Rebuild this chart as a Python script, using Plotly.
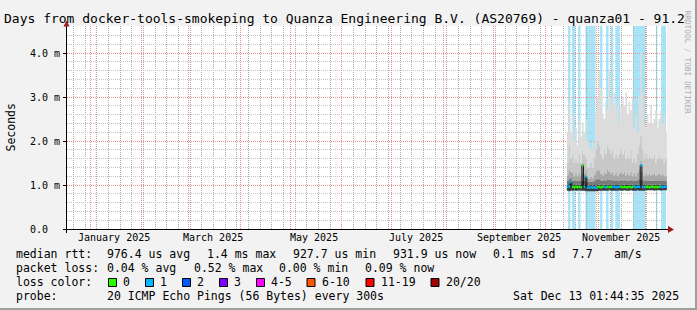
import plotly.graph_objects as go
import pandas as pd

# ---------------- data ----------------
RANGE_START = "2024-12-18 01:44:35"
RANGE_END = "2025-12-13 01:44:35"
FIRST_DAY = "2025-10-14"

median_ms = [0.96, 0.97, 1.07, 0.96, 0.95, 0.96, 0.95, 0.96, 0.95, 1.45,
             0.96, 1.19, 0.94, 0.94, 0.95, 0.94, 0.95, 0.94, 0.95, 0.96,
             0.95, 0.96, 0.96, 0.95, 0.96, 0.95, 0.96, 0.96, 0.96, 0.95,
             0.95, 0.96, 0.96, 0.95, 0.96, 0.95, 0.95, 0.96, 0.95, 0.96,
             0.96, 0.95, 0.96, 0.96, 1.45, 0.96, 0.95, 0.96, 0.96, 0.95,
             0.96, 0.96, 0.95, 0.96, 0.95, 0.96, 0.96, 0.95, 0.96, 0.96,
             0.96]
loss_cnt = [1, 1, 1, 0, 0, 0, 0, 0, 0, 0,
            1, 1, 1, 1, 1, 1, 1, 1, 0, 0,
            0, 0, 1, 1, 0, 0, 0, 1, 1, 1,
            1, 1, 0, 0, 0, 0, 0, 0, 0, 0,
            1, 1, 1, 1, 1, 1, 1, 0, 0, 0,
            0, 0, 0, 0, 0, 0, 1, 1, 1, 1,
            1]
lower_ms = [0.87, 0.86, 0.87, 0.87, 0.88, 0.87, 0.87, 0.88, 0.87, 0.87,
            0.87, 0.86, 0.86, 0.86, 0.86, 0.86, 0.86, 0.86, 0.86, 0.87,
            0.87, 0.87, 0.87, 0.87, 0.87, 0.88, 0.87, 0.87, 0.87, 0.87,
            0.87, 0.88, 0.87, 0.87, 0.88, 0.87, 0.87, 0.87, 0.88, 0.87,
            0.87, 0.87, 0.88, 0.87, 0.87, 0.87, 0.87, 0.88, 0.88, 0.88,
            0.88, 0.88, 0.87, 0.88, 0.88, 0.88, 0.87, 0.88, 0.88, 0.88,
            0.88]
band1_ms = [1.01, 1.02, 1.08, 1.01, 1.00, 1.01, 1.00, 1.01, 1.00, 1.10,
            1.01, 1.08, 0.99, 0.99, 1.00, 0.99, 1.00, 0.99, 1.00, 1.01,
            1.00, 1.01, 1.01, 1.00, 1.01, 1.00, 1.01, 1.01, 1.01, 1.00,
            1.00, 1.01, 1.01, 1.00, 1.01, 1.00, 1.00, 1.01, 1.00, 1.01,
            1.01, 1.00, 1.01, 1.01, 1.10, 1.01, 1.00, 1.01, 1.01, 1.00,
            1.01, 1.01, 1.00, 1.01, 1.00, 1.01, 1.01, 1.00, 1.01, 1.01,
            1.01]
band2_ms = [1.10, 1.14, 1.16, 1.10, 1.09, 1.10, 1.09, 1.11, 1.09, 1.25,
            1.10, 1.20, 1.07, 1.07, 1.08, 1.07, 1.10, 1.12, 1.14, 1.13,
            1.10, 1.10, 1.12, 1.10, 1.13, 1.12, 1.10, 1.12, 1.10, 1.11,
            1.09, 1.10, 1.12, 1.10, 1.12, 1.10, 1.11, 1.10, 1.12, 1.09,
            1.10, 1.09, 1.11, 1.14, 1.28, 1.12, 1.09, 1.10, 1.10, 1.11,
            1.10, 1.10, 1.11, 1.09, 1.10, 1.11, 1.10, 1.10, 1.09, 1.10,
            1.10]
band3_ms = [1.22, 1.35, 1.30, 1.28, 1.20, 1.25, 1.20, 1.28, 1.20, 1.50,
            1.25, 1.35, 1.15, 1.15, 1.18, 1.15, 1.22, 1.30, 1.35, 1.32,
            1.25, 1.22, 1.30, 1.25, 1.35, 1.30, 1.25, 1.30, 1.22, 1.28,
            1.20, 1.25, 1.30, 1.25, 1.30, 1.22, 1.28, 1.22, 1.30, 1.20,
            1.25, 1.20, 1.28, 1.35, 1.55, 1.30, 1.20, 1.25, 1.22, 1.28,
            1.22, 1.24, 1.28, 1.20, 1.24, 1.28, 1.22, 1.25, 1.20, 1.22,
            1.22]
band4_ms = [1.50, 1.90, 1.60, 1.70, 1.50, 1.60, 1.50, 1.70, 1.50, 1.80,
            1.70, 1.60, 1.40, 1.40, 1.50, 1.40, 1.60, 1.80, 2.00, 1.90,
            1.70, 1.60, 1.80, 1.70, 1.90, 1.80, 1.70, 1.80, 1.60, 1.70,
            1.60, 1.70, 1.80, 1.70, 1.80, 1.60, 1.70, 1.60, 1.80, 1.50,
            1.60, 1.50, 1.70, 1.90, 2.10, 1.80, 1.60, 1.70, 1.60, 1.70,
            1.60, 1.60, 1.70, 1.50, 1.60, 1.70, 1.60, 1.60, 1.50, 1.60,
            1.60]
max_ms = [2.20, 2.90, 2.20, 2.60, 2.00, 2.30, 1.90, 2.50, 2.10, 2.40,
          2.20, 2.50, 2.00, 1.90, 1.80, 2.00, 1.80, 2.60, 3.00, 3.60,
          3.20, 2.60, 2.50, 2.90, 2.70, 3.60, 3.00, 2.80, 3.10, 2.70,
          2.90, 2.40, 2.80, 3.00, 2.80, 3.10, 2.60, 2.90, 2.70, 3.00,
          2.30, 2.60, 2.20, 3.00, 4.00, 3.10, 2.40, 2.30, 2.60, 2.40,
          2.80, 2.40, 2.50, 2.70, 2.30, 2.50, 2.70, 2.40, 2.60, 2.20,
          2.50]

loss_start = ["2025-10-14 16:00", "2025-10-17 01:00", "2025-10-20 16:00", "2025-10-25 04:00",
              "2025-11-02 20:00", "2025-11-06 11:00", "2025-11-09 11:00", "2025-11-12 01:00",
              "2025-11-22 16:00", "2025-12-06 11:00", "2025-12-09 11:00"]
loss_end = ["2025-10-16 04:00", "2025-10-19 01:00", "2025-10-22 06:00", "2025-10-31 04:00",
            "2025-11-04 09:00", "2025-11-08 02:00", "2025-11-10 20:00", "2025-11-14 20:00",
            "2025-11-30 04:00", "2025-12-07 06:00", "2025-12-12 11:00"]
loss_bg_count = 1

label_dates = ["2025-01-15 12:00", "2025-03-15 12:00", "2025-05-15 12:00",
               "2025-07-15 12:00", "2025-09-15 12:00", "2025-11-15 12:00"]
label_text = ["January 2025", "March 2025", "May 2025", "July 2025", "September 2025", "November 2025"]
y_tick_alias = {"0.0 m": "0.0\u00a0\u00a0"}

loss_colors = ["#26ff00", "#00b8ff", "#0059ff", "#7e00ff", "#ff00ff", "#ff5500", "#ff0000", "#a10000"]
loss_labels = ["0", "1", "2", "3", "4-5", "6-10", "11-19", "20/20"]
loss_bg_colors = ["#ffffff", "#a8e4f8"]

title_text = "Days from docker-tools-smokeping to Quanza Engineering B.V. (AS20769) - quanza01 - 91.2"
rtt_texts = ["median rtt:", "976.4 us avg", "1.4 ms max", "927.7 us min", "931.9 us now", "0.1 ms sd", "7.7", "am/s"]
loss_texts = ["packet loss:", "0.04 % avg", "0.52 % max", "0.00 % min", "0.09 % now"]
probe_texts = ["probe:", "20 ICMP Echo Pings (56 Bytes) every 300s", "Sat Dec 13 01:44:35 2025"]

# ---------------- layout helpers ----------------
W, H = 697, 310
L, R, T, B = 67, 30, 26, 81
PW, PH = W - L - R, H - T - B
PX_PER_MS = 44.0
def px(x): return (x - L) / PW
def py(y): return (H - B - y) / PH
MONO = "DejaVu Sans Mono"
def color_index(n):
    if n <= 3: return n
    if n <= 5: return 4
    if n <= 10: return 5
    if n <= 19: return 6
    return 7

days = pd.date_range(FIRST_DAY, periods=len(median_ms), freq="D")

fig = go.Figure()
layers = [(lower_ms, None), (band1_ms, "#3c3c3c"), (band2_ms, "#7a7a7a"),
          (band3_ms, "#a8a8a8"), (band4_ms, "#c8c8c8"), (max_ms, "#dcdcdc")]
for arr, col in layers:
    fig.add_trace(go.Scatter(x=days, y=arr, mode="lines",
                             line=dict(width=0, shape="hv", color="rgba(0,0,0,0)"),
                             fill=None if col is None else "tonexty",
                             fillcolor=col, hoverinfo="skip", showlegend=False))
fig.add_trace(go.Scatter(x=days, y=median_ms, mode="lines",
                         line=dict(color="#151515", width=1, shape="hv"),
                         hoverinfo="skip", showlegend=False))
for k, col in enumerate(loss_colors):
    xs, ys = [], []
    for i in range(len(days) - 1):
        if color_index(loss_cnt[i]) == k:
            xs += [days[i], days[i + 1], None]
            ys += [median_ms[i], median_ms[i], None]
    if xs:
        fig.add_trace(go.Scatter(x=xs, y=ys, mode="lines", line=dict(color=col, width=2.5),
                                 hoverinfo="skip", showlegend=False))

shapes = []
for a, b in zip(loss_start, loss_end):
    shapes.append(dict(type="rect", xref="x", yref="paper", x0=a, x1=b, y0=0, y1=1,
                       fillcolor=loss_bg_colors[loss_bg_count], line=dict(width=0), layer="below"))
shapes.append(dict(type="rect", xref="paper", yref="paper", x0=px(695), x1=px(697), y0=py(0), y1=py(310),
                   fillcolor="#9e9e9e", line=dict(width=0), layer="above"))
shapes.append(dict(type="rect", xref="paper", yref="paper", x0=px(0), x1=px(697), y0=py(308), y1=py(310),
                   fillcolor="#9e9e9e", line=dict(width=0), layer="above"))
shapes.append(dict(type="line", xref="paper", yref="paper", x0=px(63), x1=px(668), y0=py(229.5), y1=py(229.5),
                   line=dict(color="#000000", width=1), layer="above"))
shapes.append(dict(type="line", xref="paper", yref="paper", x0=px(66.5), x1=px(66.5), y0=py(233), y1=py(24),
                   line=dict(color="#000000", width=1), layer="above"))
shapes.append(dict(type="path", xref="paper", yref="paper",
                   path=f"M {px(668)} {py(226)} L {px(674)} {py(229.5)} L {px(668)} {py(233)} Z",
                   fillcolor="#9b1b1b", line=dict(width=0), layer="above"))
shapes.append(dict(type="path", xref="paper", yref="paper",
                   path=f"M {px(63.5)} {py(26.5)} L {px(66.5)} {py(20.5)} L {px(69.5)} {py(26.5)} Z",
                   fillcolor="#9b1b1b", line=dict(width=0), layer="above"))

annotations = []
def text(s, x, y, size, anchor="left", color="#000000", angle=0):
    annotations.append(dict(text=s, xref="paper", yref="paper", x=px(x), y=py(y), xanchor=anchor,
                            yanchor="middle", showarrow=False, textangle=angle, borderpad=0, borderwidth=0,
                            font=dict(family=MONO, size=size, color=color)))

text("RRDTOOL / TOBI OETIKER", 687.5, 62, 7.8, anchor="center", color="#ababab", angle=90)
text(title_text, 4, 19, 13)
text("Seconds", 10, 127.5, 11.5, anchor="center", angle=-90)
for d, t in zip(label_dates, label_text):
    annotations.append(dict(text=t, xref="x", yref="paper", x=d, y=py(237.5), xanchor="center",
                            yanchor="middle", showarrow=False, borderpad=0, borderwidth=0,
                            font=dict(family=MONO, size=10, color="#000000")))

FS = 11.5
for s, x in zip(rtt_texts, [16, 107.3, 207.3, 293.3, 393.3, 493.3, 571.7, 614]):
    text(s, x, 254.3, FS)
for s, x in zip(loss_texts, [16, 107.3, 194, 279.3, 365]):
    text(s, x, 268.2, FS)
text("loss color:", 16, 282.2, FS)
box_x = [108.5, 145.5, 182.5, 219.5, 256.5, 307.0, 366.0, 431.0]
for col, lab, bx in zip(loss_colors, loss_labels, box_x):
    shapes.append(dict(type="rect", xref="paper", yref="paper", x0=px(bx), x1=px(bx + 8),
                       y0=py(286.5), y1=py(278.5), fillcolor=col,
                       line=dict(color="#000000", width=1), layer="above"))
    text(lab, bx + 14.8, 282.2, FS)
for s, x in zip(probe_texts, [16, 107.3, 513.3]):
    text(s, x, 296.2, FS)

grid_minor = "#c4c4c4"
grid_minor_v = "#a8a8a8"
grid_major = "#f09090"
fig.update_layout(
    width=W, height=H, autosize=False,
    margin=dict(l=L, r=R, t=T, b=B, pad=0),
    paper_bgcolor="#f2f2f2", plot_bgcolor="#ffffff",
    showlegend=False, shapes=shapes, annotations=annotations,
    xaxis=dict(type="date", range=[RANGE_START, RANGE_END], tickmode="linear",
               tick0="2025-01-01", dtick="M1",
               showticklabels=False, ticks="", showline=False, zeroline=False,
               showgrid=True, gridcolor=grid_major, griddash="1px,1px", gridwidth=1,
               minor=dict(dtick=7 * 86400000, tick0="2025-01-05", showgrid=True,
                          gridcolor=grid_minor_v, gridwidth=1)),
    yaxis=dict(range=[0, PH / PX_PER_MS], tickmode="linear", tick0=0, dtick=1,
               tickformat=".1f", ticksuffix=" m", labelalias=y_tick_alias,
               tickfont=dict(family=MONO, size=10, color="#000000"),
               ticks="outside", ticklen=3, tickcolor="#000000", ticklabelstandoff=1,
               showline=False, zeroline=False,
               showgrid=True, gridcolor=grid_major, griddash="1px,1px", gridwidth=1,
               minor=dict(dtick=0.2, tick0=0, showgrid=True,
                          gridcolor=grid_minor, gridwidth=1)),
)
fig.write_html("out.html")
